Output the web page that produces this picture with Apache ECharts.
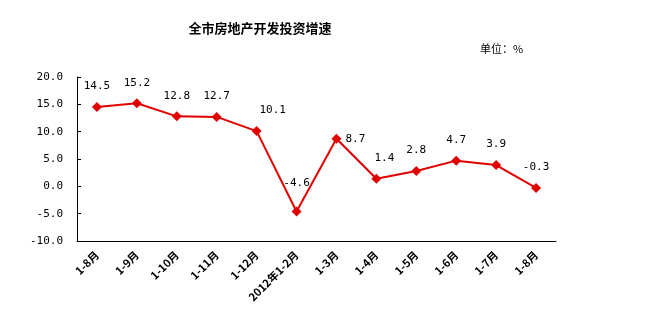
<!DOCTYPE html>
<html><head><meta charset="utf-8">
<script src="https://cdn.jsdelivr.net/npm/echarts@6/dist/echarts.min.js"></script>
<style>html,body{margin:0;padding:0;background:#fff}#c{width:668px;height:324px}</style>
</head><body><div id="c"></div>
<script>
const categories = ['1-8月','1-9月','1-10月','1-11月','1-12月','2012年1-2月','1-3月','1-4月','1-5月','1-6月','1-7月','1-8月'];
const values = [14.5, 15.2, 12.8, 12.7, 10.1, -4.6, 8.7, 1.4, 2.8, 4.7, 3.9, -0.3];
const yTicks = {min: -10, max: 20, interval: 5};
const titleText = '全市房地产开发投资增速';
const unitText = '单位：%';

const labelTweaks = {
  4: {offset: [16, 0]},
  5: {distance: 18},
  6: {position: 'right', distance: 4},
  7: {offset: [8, 0]}
};

const chart = echarts.init(document.getElementById('c'));
const cjk = '"Noto Sans CJK SC", sans-serif';
const mono = '"DejaVu Sans Mono", monospace';
chart.setOption({
  animation: false,
  backgroundColor: '#fff',
  title: [
    {text: titleText, left: 255, top: 17, textAlign: 'center',
     textStyle: {fontSize: 13, fontWeight: 'bold', color: '#000', fontFamily: cjk}},
    {text: unitText, left: 475, top: 38,
     textStyle: {fontSize: 11, fontWeight: 'normal', color: '#000', fontFamily: cjk}}
  ],
  grid: {left: 77, right: 112, top: 77, bottom: 83},
  xAxis: {
    type: 'category', data: categories, boundaryGap: true,
    axisLine: {onZero: false, lineStyle: {color: '#000', width: 1}},
    axisTick: {inside: true, length: 4, lineStyle: {color: '#000'}},
    axisLabel: {rotate: 45, fontSize: 11, fontWeight: 'bold', color: '#000', margin: 12, fontFamily: cjk, interval: 0}
  },
  yAxis: {
    type: 'value', min: yTicks.min, max: yTicks.max, interval: yTicks.interval,
    splitLine: {show: false},
    axisLine: {show: true, lineStyle: {color: '#000', width: 1}},
    axisTick: {show: true, inside: true, length: 4, lineStyle: {color: '#000'}},
    axisLabel: {formatter: v => v.toFixed(1), fontSize: 11, color: '#000', margin: 14, fontFamily: mono}
  },
  series: [{
    type: 'line',
    data: values.map((v, i) => labelTweaks[i] ? {value: v, label: labelTweaks[i]} : v),
    symbol: 'diamond', symbolSize: 10,
    lineStyle: {color: '#e00000', width: 2},
    itemStyle: {color: '#e00000'},
    label: {show: true, position: 'top', distance: 10, formatter: p => p.value.toFixed(1), fontSize: 11, color: '#000', fontFamily: mono}
  }]
});
</script></body></html>
